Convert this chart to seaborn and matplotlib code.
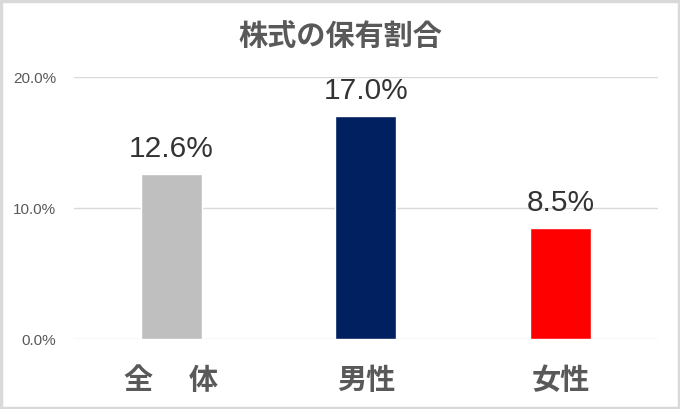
import matplotlib
matplotlib.use("Agg")
import matplotlib.pyplot as plt
import seaborn as sns
import pandas as pd
from matplotlib.patches import Rectangle

categories = ["全　 体", "男性", "女性"]
values = [12.6, 17.0, 8.5]
value_labels = ["12.6%", "17.0%", "8.5%"]
colors = ["#bfbfbf", "#002060", "#ff0000"]
yticks = [0, 10, 20]
ytick_labels = ["0.0%", "10.0%", "20.0%"]
title = "株式の保有割合"

sns.set_theme(style="white")
plt.rcParams["font.family"] = ["Noto Sans CJK JP", "DejaVu Sans"]

df = pd.DataFrame({"cat": categories, "val": values})

fig = plt.figure(figsize=(6.8, 4.09), dpi=100)
ax = fig.add_axes([0.1088, 0.1711, 0.8585, 0.6406])

sns.barplot(data=df, x="cat", y="val", hue="cat", palette=colors,
            width=0.314, ax=ax, legend=False, saturation=1)

ax.set_ylim(0, 20)
ax.set_xlim(-0.5, 2.5)
ax.set_yticks(yticks)
ax.set_yticklabels(ytick_labels, fontsize=11, color="#595959",
                   family=["Liberation Sans", "DejaVu Sans"])
ax.yaxis.grid(True, color="#d9d9d9", linewidth=1)
ax.set_axisbelow(True)
for s in ax.spines.values():
    s.set_visible(False)
ax.tick_params(axis="y", length=0, pad=13)
ax.tick_params(axis="x", length=0, pad=19)
ax.set_xlabel("")
ax.set_ylabel("")
for lbl in ax.get_xticklabels():
    lbl.set_fontsize(21)
    lbl.set_fontweight("bold")
    lbl.set_color("#595959")

for i, (v, t) in enumerate(zip(values, value_labels)):
    ax.annotate(t, (i, v), xytext=(0, 8), textcoords="offset points",
                ha="center", va="bottom", fontsize=21.5, color="#333333",
                family=["Liberation Sans", "DejaVu Sans"])

fig.text(0.5, 1 - 37 / 409, title, ha="center", va="center",
         fontsize=21, fontweight="bold", color="#595959")

fig.patches.append(Rectangle((0.002, 0.003), 0.996, 0.994, transform=fig.transFigure,
                             fill=False, edgecolor="#d9d9d9", linewidth=2.5))

fig.savefig("out.png", dpi=100)
